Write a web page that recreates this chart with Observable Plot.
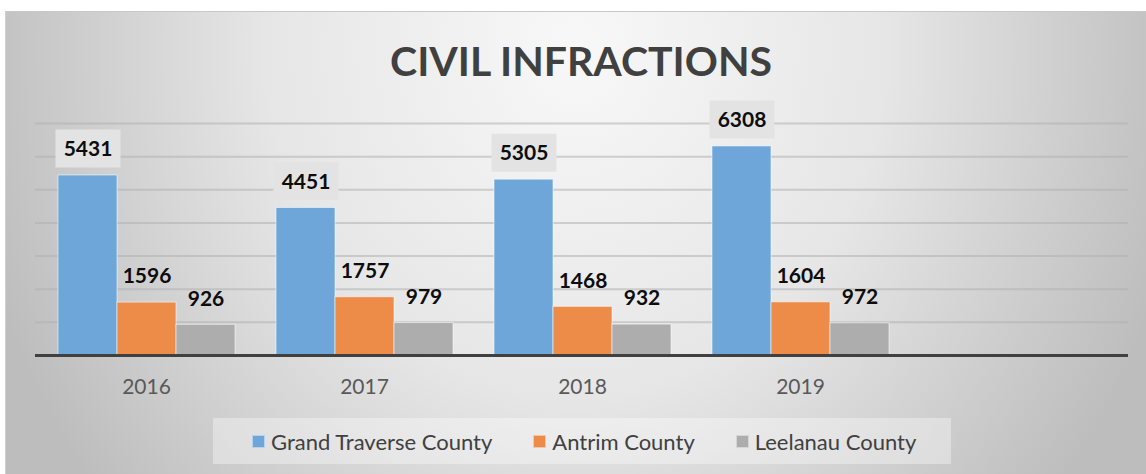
<!DOCTYPE html>
<html><head><meta charset="utf-8">
<script src="https://cdn.jsdelivr.net/npm/d3@7"></script>
<script src="https://cdn.jsdelivr.net/npm/@observablehq/plot@0.6"></script>
<style>
html,body{margin:0;padding:0;background:#fff;width:1146px;height:474px;overflow:hidden;font-family:Lato,sans-serif}
#panel{position:absolute;left:5px;top:11px;width:1141px;height:463px;
  background:radial-gradient(ellipse 620px 700px at 50% 8%, #f8f8f8 0%, #e6e6e6 50%, #bdbdbd 100%);
  border-top:1px solid #c8c8c8;border-left:1px solid #d0d0d0;box-sizing:border-box}
#title{position:absolute;left:8px;top:37px;width:1146px;text-align:center;font-family:Lato,sans-serif;font-weight:bold;font-size:41px;line-height:48px;color:#404040}
#grid,#chart,#base{position:absolute;left:0;top:95px}
#legend{position:absolute;left:213px;top:418px;width:738px;height:46px;box-sizing:border-box;padding-left:39px;
  background:rgba(255,255,255,0.35);display:flex;align-items:center;gap:41px;font-family:Lato,sans-serif;font-size:22px;color:#404040}
#legend .item{display:flex;align-items:center}
#legend .sw{width:13px;height:13px;margin-right:6px;box-sizing:border-box;border:1px solid rgba(255,255,255,0.5)}
</style></head>
<body>
<div id="panel"></div>
<div id="title"></div>
<div id="grid"></div>
<div id="chart"></div>
<div id="base"></div>
<div id="legend"></div>
<script>
const chartTitle = "CIVIL INFRACTIONS";
const years = ["2016", "2017", "2018", "2019"];
const slots = ["2016", "2017", "2018", "2019", ""]; // the reference keeps an empty fifth slot
const counties = ["Grand Traverse County", "Antrim County", "Leelanau County"];
const grandTraverse = [5431, 4451, 5305, 6308];
const antrim = [1596, 1757, 1468, 1604];
const leelanau = [926, 979, 932, 972];
const colors = ["#6ea6d9", "#ed8b49", "#adadad"];
const gridTicks = [1000, 2000, 3000, 4000, 5000, 6000, 7000];

const series = [grandTraverse, antrim, leelanau];
const rows = years.flatMap((year, i) =>
  counties.map((county, j) => ({year, county, value: series[j][i]})));

document.getElementById("title").textContent = chartTitle;

const frame = {width: 1146, height: 310, marginLeft: 35, marginRight: 18, marginTop: 28, marginBottom: 50};
const yScale = {domain: [0, 7000], axis: null};

// background layer: continuous gridlines across the whole plot width
const grid = Plot.plot({
  ...frame,
  style: {background: "transparent"},
  y: yScale,
  marks: [Plot.ruleY(gridTicks, {stroke: "#b0b0b0", strokeWidth: 2, strokeOpacity: 0.55})]
});
document.getElementById("grid").appendChild(grid);

// label background box (for the first series' labels)
const labelBox = {draw(ctx) { ctx.rect(-32.5, -19, 65, 38); }};

const chart = Plot.plot({
  ...frame,
  style: {background: "transparent", fontFamily: "Lato, sans-serif"},
  fx: {domain: slots, padding: 0, label: null},
  x: {domain: counties, axis: null, paddingInner: 0, paddingOuter: 0.317},
  y: yScale,
  color: {domain: counties, range: colors},
  marks: [
    Plot.barY(rows, {fx: "year", x: "county", y: "value", fill: "county", stroke: "#ffffff", strokeOpacity: 0.55, strokeWidth: 1}),
    Plot.dot(rows.filter(d => d.county === counties[0]), {fx: "year", x: "county", y: "value", dy: -27, symbol: labelBox, fill: "#e3e3e3", stroke: null}),
    Plot.text(rows, {fx: "year", x: "county", y: "value", text: d => String(d.value), dy: -26, fontWeight: "bold", fontSize: 21, fill: "#0d0d0d"}),
    Plot.axisFx({anchor: "bottom", tickSize: 0, tickPadding: 24, fontSize: 21, fill: "#595959", label: null})
  ]
});
document.getElementById("chart").appendChild(chart);

// foreground layer: the dark baseline across the whole plot width
const base = Plot.plot({
  ...frame,
  style: {background: "transparent"},
  y: yScale,
  marks: [Plot.ruleY([0], {stroke: "#404040", strokeWidth: 3})]
});
document.getElementById("base").appendChild(base);

const legend = document.getElementById("legend");
counties.forEach((c, i) => {
  const item = document.createElement("div");
  item.className = "item";
  const sw = document.createElement("span");
  sw.className = "sw";
  sw.style.background = colors[i];
  const t = document.createElement("span");
  t.textContent = c;
  item.appendChild(sw); item.appendChild(t);
  legend.appendChild(item);
});
</script>
</body></html>
